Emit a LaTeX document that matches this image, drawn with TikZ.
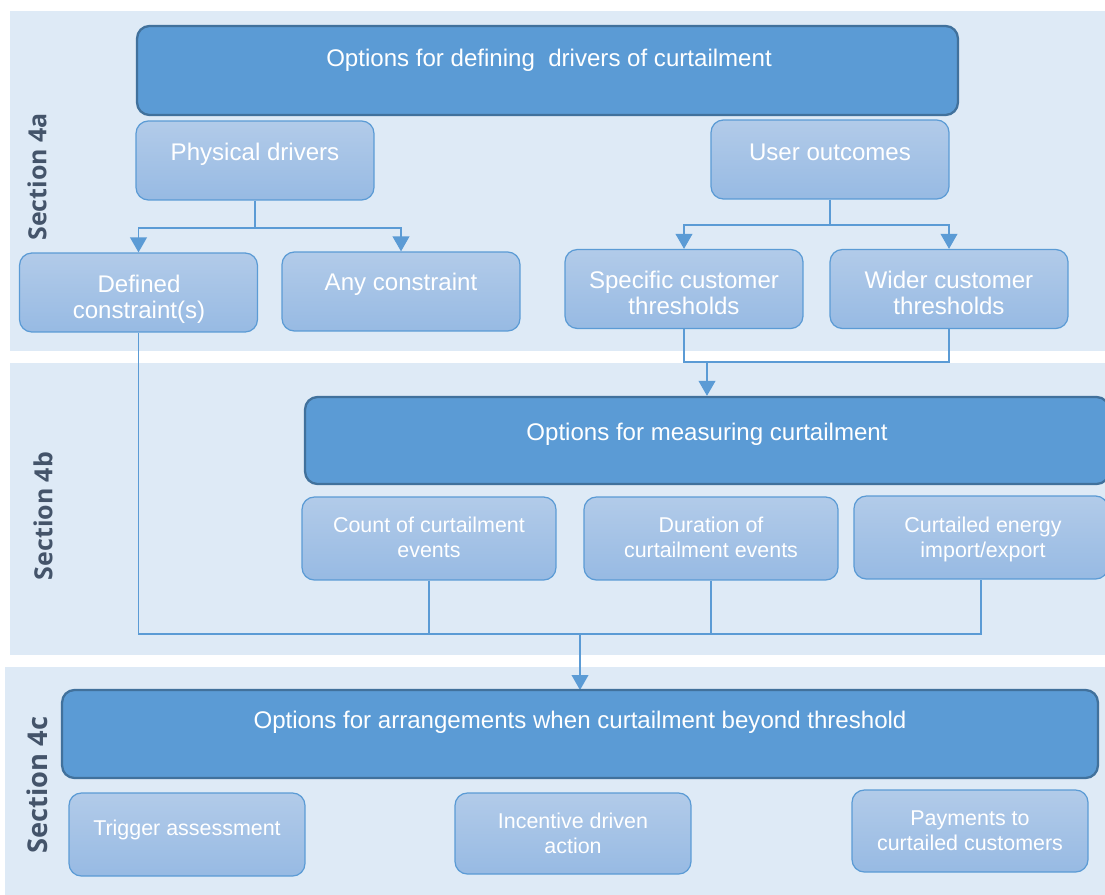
\documentclass[tikz,border=0pt]{standalone}
\usepackage{fontspec}
\setmainfont{Liberation Sans}
\newfontfamily\secfont{Open Sans}
\usetikzlibrary{arrows.meta}

\definecolor{band}{HTML}{DEEAF6}
\definecolor{dark}{HTML}{5B9BD5}
\definecolor{darkedge}{HTML}{41719C}
\definecolor{lighttop}{HTML}{B2CBE9}
\definecolor{lightbot}{HTML}{97BAE3}
\definecolor{slate}{HTML}{44546A}

\tikzset{
  bigbox/.style={draw=darkedge, line width=1.3pt, fill=dark, rounded corners=7pt},
  smallbox/.style={draw=dark, line width=0.7pt, top color=lighttop, bottom color=lightbot,
    rounded corners=7pt, minimum width=4.76cm, minimum height=1.58cm},
  boxtext/.style={text=white, align=center, anchor=base, inner sep=0pt,
    font=\fontsize{13.7}{14.7}\selectfont},
  smalltext/.style={boxtext, font=\fontsize{12.2}{14.2}\selectfont},
  seclabel/.style={rotate=90, text=slate, font=\secfont\bfseries\fontsize{14.2}{17}\selectfont},
  conn/.style={draw=dark, line width=0.85pt},
  arr/.style={conn, -{Triangle[width=9.5pt,length=8.5pt]}}
}

\begin{document}
\begin{tikzpicture}[x=0.02cm, y=-0.02cm]
\clip (0,0) rectangle (1105,895);

% section bands
\fill[band] (10,11) rectangle (1105,351);
\fill[band] (10,363) rectangle (1105,655);
\fill[band] (5,667) rectangle (1105,895);

\node[seclabel] (s4a) at (37,177) {Section 4a};
\node[seclabel] (s4b) at (43,516) {Section 4b};
\node[seclabel, font=\secfont\bfseries\fontsize{15.5}{18}\selectfont] (s4c) at (37,785) {Section 4c};

% section 4a
\node[bigbox, minimum width=16.42cm, minimum height=1.78cm] (drv) at (547.5,70.5) {};
\node[boxtext] (drvT) at (549,67) {Options for defining\ \ drivers of curtailment};

\node[smallbox] (phys) at (255,160.5) {};
\node[boxtext] (physT) at (255,161) {Physical drivers};
\node[smallbox] (user) at (830,159.5) {};
\node[boxtext] (userT) at (830,161) {User outcomes};

\node[smallbox] (defc) at (138.5,292.5) {};
\node[boxtext] (defcT) at (139,318) {Defined\\constraint(s)};
\node[smallbox] (anyc) at (401,291.5) {};
\node[boxtext] (anycT) at (401,290) {Any constraint};
\node[smallbox] (spec) at (684,289) {};
\node[boxtext] (specT) at (684,314) {Specific customer\\thresholds};
\node[smallbox] (wide) at (949,289) {};
\node[boxtext] (wideT) at (949,314) {Wider customer\\thresholds};

\coordinate (j1) at (255,228);
\draw[conn] (phys.south) -- (j1);
\draw[arr] (j1) -| (defc.north);
\draw[arr] (j1) -| (anyc.north);
\coordinate (j2) at (830,225);
\draw[conn] (user.south) -- (j2);
\draw[arr] (j2) -| (spec.north);
\draw[arr] (j2) -| (wide.north);

% section 4b
\node[bigbox, minimum width=16.08cm, minimum height=1.74cm] (meas) at (707,440.5) {};
\node[boxtext] (measT) at (707,440) {Options for measuring curtailment};

\coordinate (j3) at (707,362);
\draw[conn] (spec.south) |- (j3) -| (wide.south);
\draw[arr] (j3) -- (meas.north);

\node[smallbox, minimum width=5.08cm, minimum height=1.66cm] (count) at (429,538.5) {};
\node[smalltext] (countT) at (429,557) {Count of curtailment\\events};
\node[smallbox, minimum width=5.08cm, minimum height=1.66cm] (dur) at (711,538.5) {};
\node[smalltext] (durT) at (711,557) {Duration of\\curtailment events};
\node[smallbox, minimum width=5.08cm, minimum height=1.66cm] (energy) at (981,537.5) {};
\node[smalltext] (energyT) at (983,557) {Curtailed energy\\import/export};

\coordinate (j4) at (580,634);
\draw[conn] (defc.south) |- (j4) -| (energy.south);
\draw[conn] (count.south) -- (count.south |- j4);
\draw[conn] (dur.south) -- (dur.south |- j4);
\draw[arr] (j4) -- (580,690);

% section 4c
\node[bigbox, minimum width=20.72cm, minimum height=1.76cm] (arrg) at (580,734) {};
\node[boxtext] (arrgT) at (580,728) {Options for arrangements when curtailment beyond threshold};

\node[smallbox, minimum width=4.72cm, minimum height=1.66cm] (trig) at (187,834.5) {};
\node[smalltext] (trigT) at (187,835) {Trigger assessment};
\node[smallbox, minimum width=4.72cm, minimum height=1.62cm] (inc) at (573,833.5) {};
\node[smalltext] (incT) at (573,853) {Incentive driven\\action};
\node[smallbox, minimum width=4.72cm, minimum height=1.64cm] (pay) at (970,831) {};
\node[smalltext] (payT) at (970,850) {Payments to\\curtailed customers};
\end{tikzpicture}
\end{document}
